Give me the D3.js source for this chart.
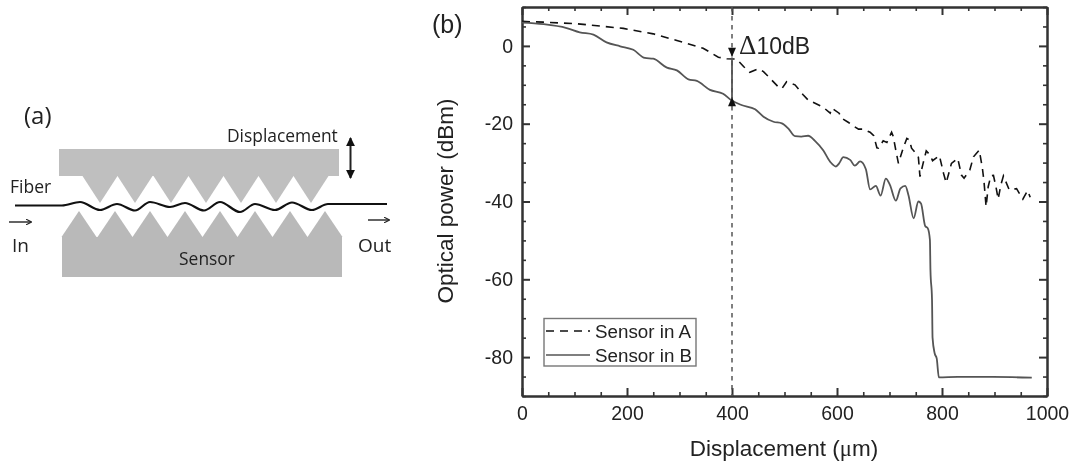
<!DOCTYPE html>
<html lang="en">
<head>
<meta charset="utf-8" />
<title>Optical power vs displacement</title>
<script src="https://cdnjs.cloudflare.com/ajax/libs/d3/7.8.5/d3.min.js"></script>
<style>
html, body { margin: 0; padding: 0; background: #fff; }
svg { display: block; filter: blur(0.35px); }
.plot text { font-family: "Liberation Sans", Arial, sans-serif; fill: #222; }
.sketch text { font-family: "Open Sans", "Noto Sans", sans-serif; fill: #222; }
.domain, .tick line { stroke: #333; stroke-width: 2; }
.minor .tick line { stroke-width: 1.6; }
</style>
</head>
<body>
<svg id="chart" width="1075" height="463"></svg>
<script>
// sensor in A, displacement (um) / power (dBm)
var sensorAx = [0,41,104,149,193,250,295,345,374,390,409,422,434,450,460,488,495,504,520,535,545,568,574,587,590,604,609,622,628,641,650,663,670,676,679,688,695,704,707,712,717,726,733,738,742,749,755,758,764,770,777,782,795,803,808,818,830,837,842,853,860,871,877,880,884,888,893,898,903,907,912,917,928,942,954,963,968];
var sensorAy = [6.3,6.1,5.7,5.1,4.5,3.1,1.4,-0.6,-2.9,-3.3,-3.4,-5.3,-6.8,-5.9,-6.6,-10.5,-11,-9.2,-10,-12.5,-13.9,-15.4,-15.8,-17.3,-16,-17.3,-18.6,-19.7,-20.3,-21.4,-21.4,-22.2,-23.1,-26.2,-26.3,-24.4,-24.8,-22.2,-23.2,-26.8,-30.2,-26.3,-23.8,-24.2,-26.3,-27.4,-28.6,-33.6,-30.2,-27,-28,-29.5,-28.2,-32.8,-35.2,-30.2,-28.9,-33.2,-34,-31.9,-28.5,-26.8,-31.5,-34.9,-41.3,-36.2,-33.4,-33.3,-36.4,-39.4,-35.8,-33.4,-37,-36.7,-39.4,-37.2,-38.9];
// sensor in B
var sensorBx = [0,41,85,110,136,161,187,212,234,250,276,295,317,333,358,383,399,418,444,460,479,495,507,520,532,545,558,574,587,598,604,612,625,634,644,655,663,674,683,693,701,712,721,730,736,746,755,760,768,773,777,778,781,782,786,790,794,830,897,971];
var sensorBy = [6,5.6,4.6,3.5,2.9,0.9,-0.1,-1,-3.1,-3.3,-5.6,-6.3,-8.6,-9,-11.3,-12.3,-14,-15.2,-16.3,-18.2,-19.5,-19.9,-21.2,-23.2,-23.3,-23.1,-24.4,-26.9,-29.8,-31,-30.2,-28.6,-29.3,-30.8,-29.7,-31.7,-36.9,-36,-38.5,-34.1,-35.8,-39.8,-36.6,-36,-38.3,-44.3,-40,-40.5,-46.3,-46.9,-49.9,-57.6,-65.3,-75,-79,-80.4,-85.2,-85.1,-85.1,-85.3];

var xMajor = [0,200,400,600,800,1000];
var yMajor = [0,-20,-40,-60,-80];
var legendLabels = ["Sensor in A","Sensor in B"];

// schematic (a), plain pixel positions
var topApex = [100,135,171,206,241,276,311];
var bottomApex = [79,115,150,185,220,255,290,325];
var fiberX = [15,62,80,100,117,135,150,170,185,204,220,240,255,275,292,312,328,387];
var fiberY = [205.5,205.5,202,210,204,210.5,202,207,203,210.5,202,212,204,210,202.5,210,204,204];

var svg = d3.select("#chart");

// ---------- panel a ----------
var a = svg.append("g").attr("class", "sketch");
var toothHalf = 17.5;

a.append("rect").attr("x", 59).attr("y", 149).attr("width", 280).attr("height", 27).attr("fill", "#bfbfbf");
a.append("rect").attr("x", 62).attr("y", 237).attr("width", 280).attr("height", 40).attr("fill", "#b9b9b9");

a.selectAll("path.top").data(topApex).enter().append("path")
	.attr("class", "top")
	.attr("fill", "#bfbfbf")
	.attr("d", function(d) { return "M" + (d - toothHalf) + ",176L" + (d + toothHalf) + ",176L" + d + ",203Z"; });
a.selectAll("path.bottom").data(bottomApex).enter().append("path")
	.attr("class", "bottom")
	.attr("fill", "#b9b9b9")
	.attr("d", function(d) { return "M" + (d - toothHalf) + ",237L" + (d + toothHalf) + ",237L" + d + ",211Z"; });

var fiberLine = d3.line()
	.x(function(d) { return fiberX[d]; })
	.y(function(d) { return fiberY[d]; })
	.curve(d3.curveMonotoneX);
a.append("path")
	.attr("d", fiberLine(d3.range(fiberX.length)))
	.attr("fill", "none").attr("stroke", "#111").attr("stroke-width", 2.2);

var defs = svg.append("defs");
defs.append("marker").attr("id", "head").attr("viewBox", "0 0 10 10").attr("refX", 9).attr("refY", 5)
	.attr("markerWidth", 6).attr("markerHeight", 6).attr("markerUnits", "userSpaceOnUse").attr("orient", "auto-start-reverse")
	.append("path").attr("d", "M0,0L10,5L0,10").attr("fill", "none").attr("stroke", "#222").attr("stroke-width", 2);
defs.append("marker").attr("id", "bigHead").attr("viewBox", "0 0 10 10").attr("refX", 9).attr("refY", 5)
	.attr("markerWidth", 9).attr("markerHeight", 9).attr("markerUnits", "userSpaceOnUse").attr("orient", "auto-start-reverse")
	.append("path").attr("d", "M0,0L10,5L0,10Z").attr("fill", "#111");

function arrow(x1, y1, x2, y2, id, w, both) {
	var l = a.append("line").attr("x1", x1).attr("y1", y1).attr("x2", x2).attr("y2", y2)
		.attr("stroke", "#222").attr("stroke-width", w).attr("marker-end", "url(#" + id + ")");
	if (both) l.attr("marker-start", "url(#" + id + ")");
}
arrow(9, 222, 31, 222, "head", 1.4);
arrow(368, 220, 389, 220, "head", 1.4);
arrow(350.5, 138, 350.5, 178, "bigHead", 2, true);

function sketchText(x, y, size, s, anchor) {
	a.append("text").attr("x", x).attr("y", y).attr("font-size", size)
		.attr("text-anchor", anchor || "start").text(s);
}
sketchText(24, 124, 24, "(a)");
sketchText(227, 142, 17.4, "Displacement");
sketchText(10, 193, 17.5, "Fiber");
sketchText(12, 252, 19, "In");
sketchText(358, 252, 19, "Out");
sketchText(207, 265, 17.4, "Sensor", "middle");

// ---------- panel b ----------
var p = svg.append("g").attr("class", "plot");
var plotLeft = 522, plotRight = 1047, plotTop = 7, plotBottom = 396;

var x = d3.scaleLinear().domain([0, 1000]).range([plotLeft, plotRight]);
var y = d3.scaleLinear().domain([-90, 10]).range([plotBottom, plotTop]);

var xMinor = d3.range(0, 1001, 50).filter(function(d) { return xMajor.indexOf(d) < 0; });
var yMinor = d3.range(-90, 11, 5).filter(function(d) { return yMajor.indexOf(d) < 0; });

function drawAxis(maker, scale, vals, size, tx, ty, cls) {
	var ax = maker(scale).tickValues(vals).tickSizeInner(size).tickSizeOuter(0).tickFormat("");
	p.append("g").attr("class", cls || "")
		.attr("transform", "translate(" + tx + "," + ty + ")").call(ax);
}

// ticks point inwards, the frame carries them on all four sides
drawAxis(d3.axisBottom, x, xMinor, -4, 0, plotBottom, "minor");
drawAxis(d3.axisTop, x, xMinor, -4, 0, plotTop, "minor");
drawAxis(d3.axisLeft, y, yMinor, -4, plotLeft, 0, "minor");
drawAxis(d3.axisRight, y, yMinor, -4, plotRight, 0, "minor");
drawAxis(d3.axisTop, x, xMajor, -8, 0, plotTop);
drawAxis(d3.axisRight, y, yMajor, -8, plotRight, 0);

// plain hyphen on the negative labels, d3.format would give a real minus
var gx = p.append("g").attr("transform", "translate(0," + plotBottom + ")")
	.call(d3.axisBottom(x).tickValues(xMajor).tickSizeInner(-8).tickSizeOuter(0).tickPadding(5).tickFormat(String));
gx.selectAll("text").attr("font-size", 19.5).attr("dy", "0.95em");
var gy = p.append("g").attr("transform", "translate(" + plotLeft + ",0)")
	.call(d3.axisLeft(y).tickValues(yMajor).tickSizeInner(-8).tickSizeOuter(0).tickPadding(9).tickFormat(String));
gy.selectAll("text").attr("font-size", 19.5);

var lineA = d3.line().x(function(d) { return x(sensorAx[d]); }).y(function(d) { return y(sensorAy[d]); });
var lineB = d3.line().x(function(d) { return x(sensorBx[d]); }).y(function(d) { return y(sensorBy[d]); })
	.curve(d3.curveMonotoneX);

// marker at 400 um
p.append("line").attr("x1", x(400)).attr("x2", x(400)).attr("y1", plotTop).attr("y2", plotBottom)
	.attr("stroke", "#555").attr("stroke-width", 1.5).attr("stroke-dasharray", "4.5,4.5");

p.append("path").attr("d", lineA(d3.range(sensorAx.length)))
	.attr("fill", "none").attr("stroke", "#111").attr("stroke-width", 1.6).attr("stroke-dasharray", "8,6");
p.append("path").attr("d", lineB(d3.range(sensorBx.length)))
	.attr("fill", "none").attr("stroke", "#555").attr("stroke-width", 1.8);

p.append("line").attr("x1", x(400)).attr("x2", x(400)).attr("y1", y(-3)).attr("y2", y(-13.5))
	.attr("stroke", "#555").attr("stroke-width", 1.8);
p.append("path").attr("fill", "#111")
	.attr("d", "M" + (x(400) - 4) + "," + y(-0.5) + "h8l-4,9Z");
p.append("path").attr("fill", "#111")
	.attr("d", "M" + (x(400) - 4) + "," + y(-15.5) + "h8l-4,-9Z");

// delta label
var dl = p.append("text").attr("x", 739).attr("y", 54).attr("font-size", 23);
dl.append("tspan").attr("font-family", "Liberation Serif, serif").attr("font-size", 27).text("Δ");
dl.append("tspan").text("10dB");

p.append("text").attr("x", 432).attr("y", 33).attr("font-size", 25).text("(b)");
p.append("text").attr("text-anchor", "middle").attr("font-size", 22.5)
	.attr("transform", "translate(453,201) rotate(-90)").text("Optical power (dBm)");
var xl = p.append("text").attr("x", 784).attr("y", 456).attr("text-anchor", "middle").attr("font-size", 22.5);
xl.append("tspan").text("Displacement (");
xl.append("tspan").attr("font-family", "Liberation Serif, serif").text("μ");
xl.append("tspan").text("m)");

// legend
var leg = p.append("g");
leg.append("rect").attr("x", 544).attr("y", 318.5).attr("width", 152).attr("height", 47.5)
	.attr("fill", "#fff").attr("stroke", "#777").attr("stroke-width", 1.4);
legendLabels.forEach(function(s, i) {
	var ly = 331 + i * 24;
	leg.append("line").attr("x1", 546).attr("x2", 590).attr("y1", ly).attr("y2", ly)
		.attr("stroke", i ? "#555" : "#111").attr("stroke-width", 1.6)
		.attr("stroke-dasharray", i ? null : "8,6");
	leg.append("text").attr("x", 595).attr("y", ly + 6.5).attr("font-size", 18.8).text(s);
});
</script>
</body>
</html>
